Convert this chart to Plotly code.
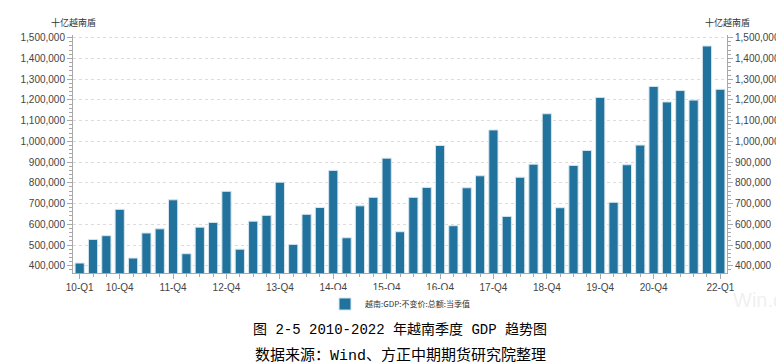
import plotly.graph_objects as go

quarters = [f"{y % 100:02d}-Q{q}" for y in range(2010, 2023) for q in range(1, 5)][:49]
gdp = [413000, 527000, 545000, 672000,
       437000, 558000, 578000, 718000,
       458000, 586000, 609000, 759000,
       480000, 615000, 643000, 803000,
       503000, 648000, 681000, 860000,
       535000, 689000, 730000, 919000,
       564000, 730000, 778000, 980000,
       593000, 776000, 834000, 1055000,
       638000, 827000, 890000, 1133000,
       680000, 884000, 956000, 1212000,
       706000, 887000, 982000, 1265000,
       1190000, 1245000, 1199000, 1460000,
       1251000]
shown_labels = ["10-Q1", "10-Q4", "11-Q4", "12-Q4", "13-Q4", "14-Q4", "15-Q4",
                "16-Q4", "17-Q4", "18-Q4", "19-Q4", "20-Q4", "22-Q1"]
y_ticks = list(range(400000, 1500001, 100000))
series_name = "越南:GDP:不变价:总额:当季值"
unit = "十亿越南盾"
title1 = "图 2-5 2010-2022 年越南季度 GDP 趋势图"
title2 = "数据来源：Wind、方正中期期货研究院整理"

xpos = list(range(len(quarters)))
tickvals = [quarters.index(l) for l in shown_labels]

BAR = "#21729c"
AXC = "#a8a8a8"
TXT = "#444444"
yr = [365000, 1513000]
W, H, ML, MR, MT, MB = 784, 364, 59, 60, 27, 99
plot_h = H - MT - MB
plot_w = W - ML - MR


def py(px):
    return (H - MB - px) / plot_h


def pxx(px):
    return (px - ML) / plot_w


fig = go.Figure()
fig.add_trace(go.Bar(x=xpos, y=gdp, name=series_name,
                     marker=dict(color=BAR, line=dict(color="#d5e6ef", width=1)),
                     customdata=quarters, hovertemplate="%{customdata}: %{y:,}<extra></extra>"))
fig.add_trace(go.Scatter(x=xpos, y=gdp, yaxis="y2", mode="lines", line=dict(width=0),
                         showlegend=False, hoverinfo="skip"))

yfmt = dict(range=yr, tickvals=y_ticks, tickformat=",", ticks="outside", ticklen=5, tickcolor=AXC,
            showline=True, linecolor=AXC, linewidth=1,
            tickfont=dict(family="Liberation Sans, Arial", size=10, color=TXT),
            minor=dict(ticks="outside", ticklen=3, tickcolor=AXC, dtick=20000, tick0=0, showgrid=False),
            zeroline=False)

cap_font = dict(family="Liberation Mono, Noto Sans CJK SC", color="#000")

fig.update_layout(
    width=W, height=H,
    margin=dict(l=ML, r=MR, t=MT, b=MB),
    paper_bgcolor="white", plot_bgcolor="white",
    bargap=0.31,
    showlegend=True,
    legend=dict(orientation="h", x=0.5, xanchor="center", y=py(296), yanchor="middle",
                font=dict(family="Noto Sans CJK SC", size=8, color="#333333")),
    xaxis=dict(range=[-0.5, len(quarters) - 0.5], tickvals=tickvals, ticktext=shown_labels,
               ticks="outside", ticklen=5, tickcolor=AXC, showline=True, linecolor=AXC,
               tickfont=dict(family="Liberation Sans, Arial", size=10, color=TXT),
               minor=dict(ticks="outside", ticklen=3, tickcolor=AXC, dtick=1, tick0=0, showgrid=False),
               showgrid=False, zeroline=False),
    yaxis=dict(**yfmt, side="left", showgrid=True, gridcolor="#dcdcdc", griddash="dot", gridwidth=1),
    yaxis2=dict(**yfmt, side="right", overlaying="y", showgrid=False),
    annotations=[
        dict(text=unit, x=0, xref="paper", y=py(15), yref="paper", showarrow=False,
             xanchor="center", yanchor="middle", font=dict(family="Noto Sans CJK SC", size=9, color="#333")),
        dict(text=unit, x=1, xref="paper", y=py(15), yref="paper", showarrow=False,
             xanchor="center", yanchor="middle", font=dict(family="Noto Sans CJK SC", size=9, color="#333")),
        dict(text="Win.d", x=pxx(728), xref="paper", y=py(292), yref="paper", showarrow=False,
             xanchor="left", yanchor="middle",
             font=dict(family="Liberation Sans", size=20, color="rgba(215,215,215,0.4)")),
        dict(text=title1, x=0.5, xref="paper", y=py(322), yref="paper", showarrow=False,
             xanchor="center", yanchor="middle", font=dict(**cap_font, size=14)),
        dict(text=title2, x=0.5, xref="paper", y=py(347), yref="paper", showarrow=False,
             xanchor="center", yanchor="middle", font=dict(**cap_font, size=15)),
    ],
)

fig.write_html("out.html")
